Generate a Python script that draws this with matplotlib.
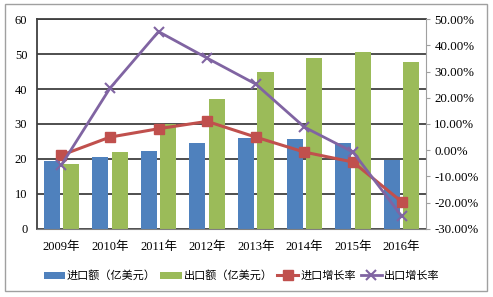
import matplotlib
matplotlib.use('Agg')
import matplotlib.pyplot as plt
from matplotlib.patches import Rectangle
from matplotlib.ticker import FuncFormatter
import numpy as np

plt.rcParams['font.family'] = ['Liberation Serif', 'Noto Sans CJK SC']
plt.rcParams['font.size'] = 9

# data
years = ['2009年', '2010年', '2011年', '2012年', '2013年', '2014年', '2015年', '2016年']
imports = [19.5, 20.6, 22.4, 24.7, 26.1, 25.8, 24.7, 19.8]
exports = [18.5, 21.9, 30.0, 37.2, 44.9, 49.0, 50.7, 47.8]
import_growth = [-1.9, 5.0, 8.2, 11.0, 5.0, -0.7, -4.5, -19.6]
export_growth = [-5.7, 23.6, 45.2, 35.1, 25.2, 8.8, -0.7, -25.1]

blue = '#4F81BD'
green = '#9BBB59'
red = '#C0504D'
purple = '#8064A2'

fig = plt.figure(figsize=(4.93, 2.97), dpi=100)
ax = fig.add_axes([0.075, 0.229, 0.789, 0.707])

x = np.arange(len(years))
w = 0.33
b1 = ax.bar(x - 0.2, imports, w, color=blue, label='进口额（亿美元）', zorder=2)
b2 = ax.bar(x + 0.2, exports, w, color=green, label='出口额（亿美元）', zorder=2)

ax.set_xlim(-0.5, len(years) - 0.5)
ax.set_ylim(0, 60)
ax.set_yticks(range(0, 61, 10))
ax.set_xticks(x)
ax.set_xticklabels(years)
ax.grid(axis='y', color='#404040', linewidth=1.3, zorder=1)
ax.tick_params(axis='y', length=0, pad=7)
ax.tick_params(axis='x', length=0, pad=9)
for s in ['left', 'top']:
    ax.spines[s].set_color('#404040')
    ax.spines[s].set_linewidth(1.3)
ax.spines['right'].set_visible(False)
ax.spines['bottom'].set_color('#808080')

ax2 = ax.twinx()
ax2.set_ylim(-30, 50)
ax2.set_yticks(range(-30, 51, 10))
ax2.yaxis.set_major_formatter(FuncFormatter(lambda v, p: '%.2f%%' % v))
l1, = ax2.plot(x, import_growth, color=red, lw=2.2, marker='s', ms=7, label='进口增长率', zorder=3)
l2, = ax2.plot(x, export_growth, color=purple, lw=2.0, marker='x', ms=7, mew=1.5, label='出口增长率', zorder=3)
for s in ['left', 'top', 'bottom']:
    ax2.spines[s].set_visible(False)
ax2.spines['right'].set_color('#A0A0A0')
ax2.tick_params(axis='y', length=3, color='#A0A0A0', pad=3, labelsize=9.3)

fig.legend([b1, b2, l1, l2], [h.get_label() for h in [b1, b2, l1, l2]],
           loc='center', bbox_to_anchor=(0.49, 0.072), ncol=4, frameon=False,
           handlelength=1.9, handleheight=0.6, handletextpad=0.2, columnspacing=0.4,
           fontsize=8)

fig.patches.append(Rectangle((0.011, 0.020), 0.977, 0.968, transform=fig.transFigure,
                             fill=False, edgecolor='#A0A0A0', linewidth=1))

fig.savefig('out.png', dpi=100)
